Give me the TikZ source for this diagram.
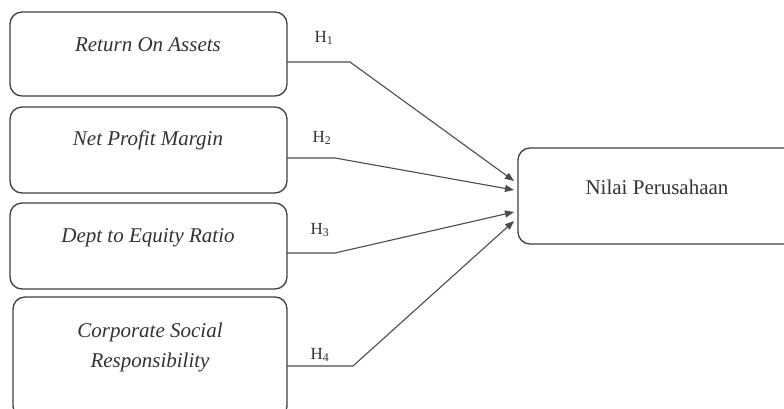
\documentclass[tikz,border=0pt]{standalone}
\usepackage{fontspec}
\setmainfont{Liberation Serif}
\usetikzlibrary{arrows.meta}
\begin{document}
\begin{tikzpicture}[x=1pt,y=-1pt,
  rbox/.style={draw=black!75,line width=1.3pt,rounded corners=12pt},
  lbl/.style={font=\fontsize{21}{30}\selectfont\itshape,align=center,text=black!80},
  hlbl/.style={font=\fontsize{17}{20}\selectfont,text=black!80},
  conn/.style={draw=black!70,line width=1.1pt,-{Triangle[length=9pt,width=7pt]}}]
\useasboundingbox (0,0) rectangle (784,409);
\clip (0,0) rectangle (784,409);
\fill[white] (0,0) rectangle (784,409);
% boxes
\draw[rbox] (10,12) rectangle (287,96);
\draw[rbox] (10,107) rectangle (287,193);
\draw[rbox] (10,203) rectangle (287,289);
\draw[rbox] (13,297) rectangle (287,418);
\draw[rbox] (518,148) rectangle (800,244);
% texts
\node[lbl] (roa) at (148,45) {Return On Assets};
\node[lbl] (npm) at (148,140) {Net Profit Margin};
\node[lbl] (der) at (148,238) {Dept to Equity Ratio};
\node[lbl] (csr) at (150,347) {Corporate Social\\Responsibility};
\node[lbl,font=\fontsize{21}{30}\selectfont] (nilai) at (657,187) {Nilai Perusahaan};
% hypothesis labels
\node[hlbl] (h1) at (324,38) {H\textsubscript{1}};
\node[hlbl] (h2) at (322,138) {H\textsubscript{2}};
\node[hlbl] (h3) at (320,230) {H\textsubscript{3}};
\node[hlbl] (h4) at (320,355) {H\textsubscript{4}};
% connector points
\coordinate (s1) at (287,62);
\coordinate (b1) at (350,62);
\coordinate (t1) at (514,181);
\coordinate (s2) at (287,158);
\coordinate (b2) at (335,158);
\coordinate (t2) at (514,190);
\coordinate (s3) at (287,253);
\coordinate (b3) at (335,253);
\coordinate (t3) at (514,212);
\coordinate (s4) at (287,366);
\coordinate (b4) at (353,366);
\coordinate (t4) at (514,221);
\draw[conn] (s1) -- (b1) -- (t1);
\draw[conn] (s2) -- (b2) -- (t2);
\draw[conn] (s3) -- (b3) -- (t3);
\draw[conn] (s4) -- (b4) -- (t4);
\end{tikzpicture}
\end{document}
